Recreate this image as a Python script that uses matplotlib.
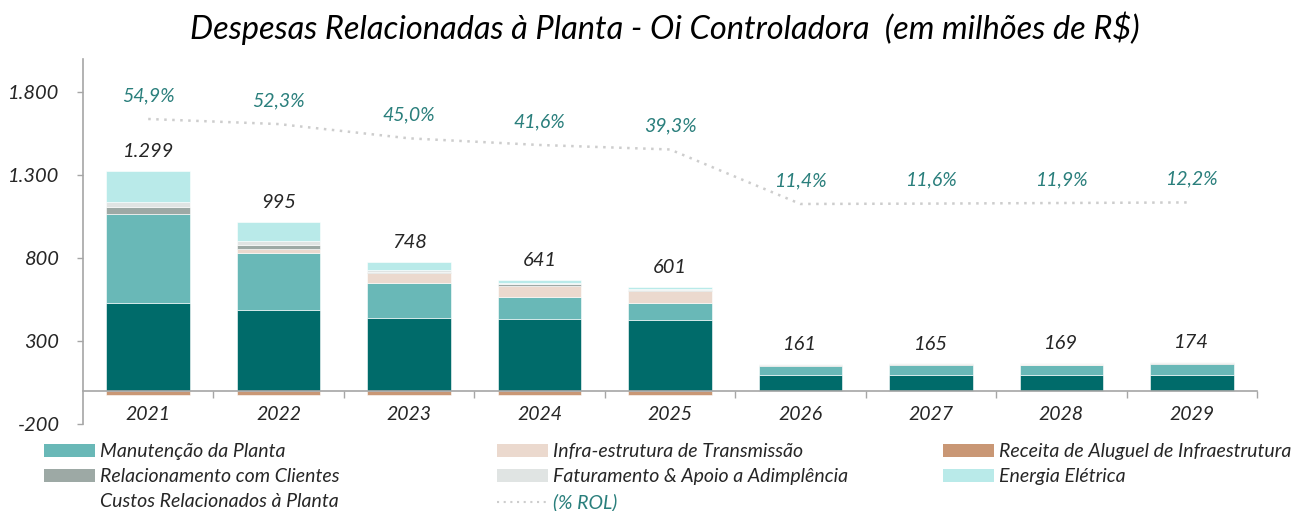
import matplotlib
matplotlib.use("Agg")
import matplotlib.pyplot as plt
from matplotlib.patches import Patch
from matplotlib.lines import Line2D
import numpy as np

plt.rcParams['font.family'] = ['Lato', 'DejaVu Sans']
plt.rcParams['font.style'] = 'italic'

years = ["2021", "2022", "2023", "2024", "2025", "2026", "2027", "2028", "2029"]
custos = [532, 490, 440, 430, 426, 94, 96, 98, 98]
manutencao = [532, 343, 209, 134, 104, 56, 58, 60, 62]
infra = [0, 24, 60, 70, 74, 1, 1, 1, 4]
relacionamento = [44, 22, 10, 10, 6, 5, 5, 5, 5]
faturamento = [32, 24, 8, 8, 6, 5, 5, 5, 5]
energia = [187, 117, 48, 16, 12, 0, 0, 0, 0]
receita = [-28, -25, -27, -27, -27, 0, 0, 0, 0]
totais = ["1.299", "995", "748", "641", "601", "161", "165", "169", "174"]
pct_rol = [54.9, 52.3, 45.0, 41.6, 39.3, 11.4, 11.6, 11.9, 12.2]
pct_labels = ["54,9%", "52,3%", "45,0%", "41,6%", "39,3%", "11,4%", "11,6%", "11,9%", "12,2%"]
yticks = [-200, 300, 800, 1300, 1800]
ytick_labels = ["-200", "300", "800", "1.300", "1.800"]

c_custos = "#006B6A"
c_manut = "#69B8B7"
c_infra = "#EBD9CE"
c_relac = "#9DA9A5"
c_fat = "#E0E4E3"
c_energia = "#B9EAE9"
c_receita = "#C99775"
c_pct = "#2A7F7C"
c_line = "#CDCDCD"
c_axis = "#A6A6A6"
c_text = "#262626"

W, H = 1299, 511
fig = plt.figure(figsize=(W / 100, H / 100), dpi=100)
ax = fig.add_axes([83 / W, (H - 424) / H, (1257 - 83) / W, (424 - 59) / H])

x = np.arange(len(years))
bw = 0.64
series = [
    (custos, c_custos),
    (manutencao, c_manut),
    (infra, c_infra),
    (relacionamento, c_relac),
    (faturamento, c_fat),
    (energia, c_energia),
]
bottom = np.zeros(len(years))
for vals, col in series:
    v = np.array(vals, dtype=float)
    ax.bar(x, v, bw, bottom=bottom, color=col, edgecolor="white", linewidth=0.4, zorder=2)
    bottom += v
ax.bar(x, receita, bw, color=c_receita, edgecolor="white", linewidth=0.4, zorder=2)

for xi, top, lab in zip(x, bottom, totais):
    ax.annotate(lab, (xi, top), xytext=(0, 10), textcoords="offset points",
                ha="center", va="baseline", fontsize=14.5, color=c_text, style="italic")

ax.set_xlim(-0.5, len(years) - 0.5)
ax.set_ylim(-200, 2000)
ax.set_yticks(yticks)
ax.set_yticklabels(ytick_labels)
ax.tick_params(axis="y", colors=c_axis, length=4.5, width=1, pad=12.5, labelsize=14.5, labelcolor=c_text)
for lab in ax.get_yticklabels():
    lab.set_style("italic")

ax.spines["top"].set_visible(False)
ax.spines["right"].set_visible(False)
ax.spines["left"].set_color(c_axis)
ax.spines["left"].set_linewidth(1.2)
ax.spines["bottom"].set_position(("data", 0))
ax.spines["bottom"].set_color(c_axis)
ax.spines["bottom"].set_linewidth(1.2)
ax.spines["bottom"].set_zorder(3)

ax.set_xticks(x)
ax.set_xticklabels(years)
ax.set_xticks(np.arange(0.5, len(years), 1.0), minor=True)
ax.tick_params(axis="x", which="major", length=0, pad=11, labelsize=14, labelcolor=c_text)
ax.tick_params(axis="x", which="minor", length=5, width=1, colors=c_axis, direction="out")
for lab in ax.get_xticklabels():
    lab.set_style("italic")

ax2 = ax.twinx()
ax2.set_ylim(-101.2, 85.6)
ax2.plot(x, pct_rol, color=c_line, linestyle=(0, (1, 2.2)), linewidth=1.8, zorder=1)
for xi, p, lab in zip(x, pct_rol, pct_labels):
    ax2.annotate(lab, (xi, p), xytext=(0, 13), textcoords="offset points",
                 ha="center", va="baseline", fontsize=14, color=c_pct, style="italic")
ax2.axis("off")

fig.text(665 / W, 1 - 28 / H, "Despesas Relacionadas à Planta - Oi Controladora  (em milhões de R$)",
         ha="center", va="center", fontsize=23.5, color="black", style="italic")

leg_kw = dict(frameon=False, fontsize=14, handlelength=2.62, handleheight=0.67,
              handletextpad=0.26, labelspacing=0.42, borderpad=0, borderaxespad=0, loc="upper left")

h1 = [Patch(facecolor=c_manut, edgecolor="none"),
      Patch(facecolor=c_relac, edgecolor="none"),
      Patch(facecolor="none", edgecolor="none")]
l1 = ["Manutenção da Planta", "Relacionamento com Clientes", "Custos Relacionados à Planta"]
h2 = [Patch(facecolor=c_infra, edgecolor="none"),
      Patch(facecolor=c_fat, edgecolor="none"),
      Line2D([], [], color=c_line, linestyle=(0, (1, 2.2)), linewidth=1.5)]
l2 = ["Infra-estrutura de Transmissão", "Faturamento & Apoio a Adimplência", "(% ROL)"]
h3 = [Patch(facecolor=c_receita, edgecolor="none"),
      Patch(facecolor=c_energia, edgecolor="none")]
l3 = ["Receita de Aluguel de Infraestrutura", "Energia Elétrica"]

top_y = 1 - 443 / H
for hs, ls, xl in [(h1, l1, 44), (h2, l2, 497), (h3, l3, 943)]:
    lg = fig.legend(hs, ls, bbox_to_anchor=(xl / W, top_y), **leg_kw)
    for t in lg.get_texts():
        t.set_style("italic")
        t.set_color(c_text)
    if ls[-1] == "(% ROL)":
        lg.get_texts()[-1].set_color(c_pct)

fig.savefig("out.png", dpi=100)
